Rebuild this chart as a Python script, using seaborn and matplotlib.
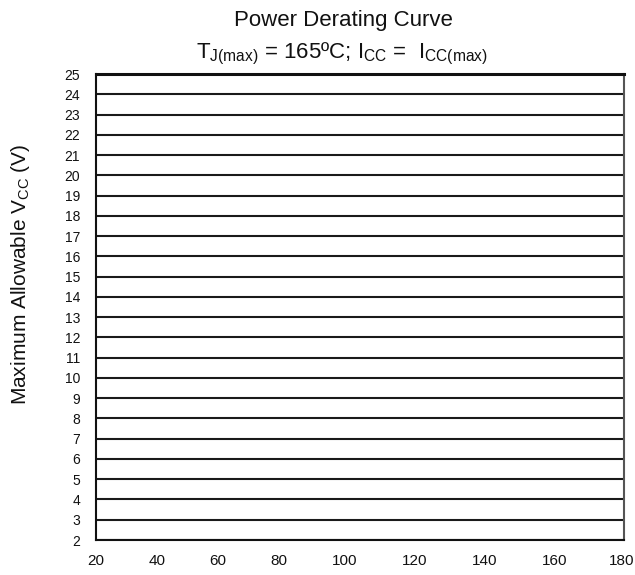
import matplotlib
matplotlib.use("Agg")
import matplotlib.pyplot as plt
import matplotlib.transforms as mtransforms
import numpy as np
import seaborn as sns

# Axis definitions for the derating chart (blank grid, no curve plotted yet)
ambient_temp_ticks = [20, 40, 60, 80, 100, 120, 140, 160, 180]
vcc_ticks = [2, 3, 4, 5, 6, 7, 8, 9, 10, 11, 12, 13, 14, 15, 16, 17, 18, 19,
             20, 21, 22, 23, 24, 25]

title_text = "Power Derating Curve"
subtitle_text = ("T$_{\\mathregular{J(max)}}$ = 165ºC; I$_{\\mathregular{CC}}$ =  "
                 "I$_{\\mathregular{CC(max)}}$")
ylabel_text = "Maximum Allowable V$_{\\mathregular{CC}}$ (V)"

# The temperature axis is stretched more above 80 ºC than below it
temp_axis_fraction = [0.0, 0.1155, 0.231, 0.3466, 0.4706, 0.6032, 0.7358,
                      0.8684, 1.0]


def temp_forward(t):
    return np.interp(t, ambient_temp_ticks, temp_axis_fraction)


def temp_inverse(f):
    return np.interp(f, temp_axis_fraction, ambient_temp_ticks)


sns.set_theme(style="white")
plt.rcParams["font.family"] = ["Liberation Sans", "DejaVu Sans"]
plt.rcParams["mathtext.fontset"] = "custom"
plt.rcParams["mathtext.rm"] = "Liberation Sans"
plt.rcParams["mathtext.default"] = "regular"

W, H = 635, 575
fig = plt.figure(figsize=(W / 100, H / 100), dpi=100)
ax = fig.add_axes([96 / W, 35 / H, 528 / W, 466 / H])

ax.set_xscale("function", functions=(temp_forward, temp_inverse))
ax.set_xlim(ambient_temp_ticks[0], ambient_temp_ticks[-1])
ax.set_ylim(vcc_ticks[0], vcc_ticks[-1])
ax.set_xticks(ambient_temp_ticks)
ax.set_yticks(vcc_ticks)
ax.set_xticklabels([str(v) for v in ambient_temp_ticks])
ax.set_yticklabels([str(v) for v in vcc_ticks])
ax.xaxis.set_minor_locator(matplotlib.ticker.NullLocator())

ax.yaxis.grid(True, color="#1a1a1a", linewidth=1.5)
ax.xaxis.grid(False)
ax.tick_params(axis="both", length=0, colors="#111111")
ax.tick_params(axis="x", pad=10, labelsize=11)
ax.tick_params(axis="y", pad=11.5, labelsize=10)

# keep the last temperature label inside the canvas
last_label = ax.get_xticklabels()[-1]
last_label.set_transform(last_label.get_transform() +
                         mtransforms.ScaledTranslation(-0.025, 0,
                                                       fig.dpi_scale_trans))

for side in ["left", "bottom", "top"]:
    ax.spines[side].set_color("#111111")
    ax.spines[side].set_linewidth(1.5)
ax.spines["top"].set_linewidth(2.2)
ax.spines["right"].set_color("#555555")
ax.spines["right"].set_linewidth(1.5)

fig.text(21 / W, 1 - 274 / H, ylabel_text, rotation=90,
         ha="center", va="center", fontsize=15, color="#111111")

fig.text(343 / W, 1 - 25.7 / H, title_text,
         ha="center", va="baseline", fontsize=16, color="#111111")
fig.text(342 / W, 1 - 58.3 / H, subtitle_text,
         ha="center", va="baseline", fontsize=16, color="#111111")

fig.savefig("out.png", dpi=100, facecolor="white")
